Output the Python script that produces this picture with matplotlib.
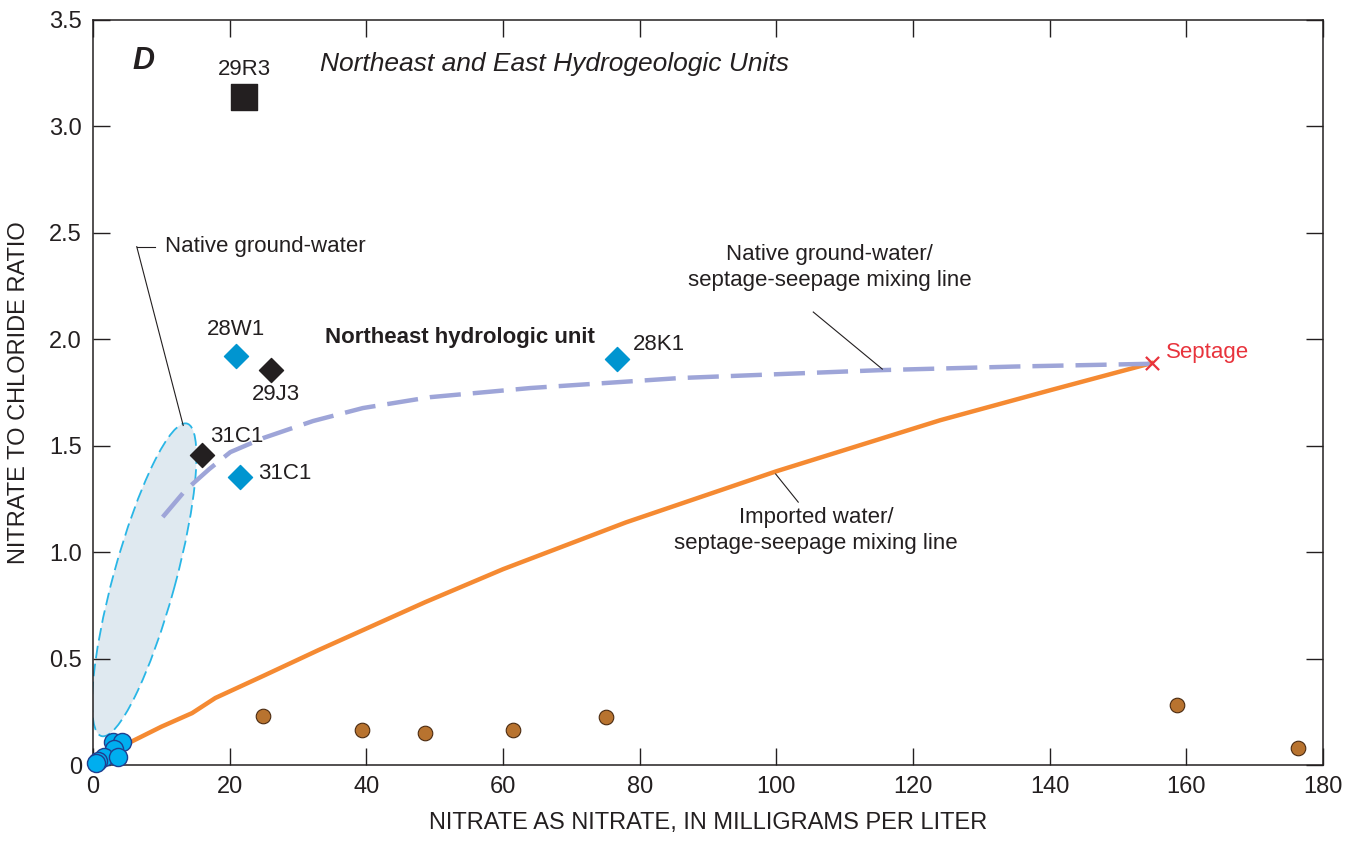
import matplotlib.pyplot as plt
import matplotlib.transforms as mtransforms
from matplotlib.patches import Ellipse

plt.rcParams['font.family'] = ['Liberation Sans Narrow', 'Liberation Sans', 'DejaVu Sans']

# native ground-water samples (blue circles near origin)
native_x = [2.9, 4.2, 3.1, 1.6, 0.7, 3.7, 0.4]
native_y = [0.11, 0.11, 0.075, 0.04, 0.02, 0.04, 0.01]

# imported water samples (brown circles)
imported_x = [24.9, 39.4, 48.6, 61.5, 75.0, 158.6, 176.3]
imported_y = [0.23, 0.164, 0.15, 0.164, 0.225, 0.28, 0.08]

# labelled wells
blue_wells = ["28W1", "31C1", "28K1"]
blue_x = [20.9, 21.5, 76.7]
blue_y = [1.92, 1.353, 1.907]
black_wells = ["29J3", "31C1"]
black_x = [26.1, 16.0]
black_y = [1.855, 1.456]
square_x = [22.1]
square_y = [3.14]

septage_x = 154.9
septage_y = 1.888

# imported water / septage-seepage mixing line
imp_line_x = [0.5, 5, 10, 14.5, 17.9, 25, 33, 48.6, 60, 78, 100, 124, 140, 154.9]
imp_line_y = [0.02, 0.1, 0.18, 0.244, 0.315, 0.42, 0.54, 0.765, 0.92, 1.14, 1.38, 1.62, 1.76, 1.888]

# native ground-water / septage-seepage mixing line
nat_line_x = [10.2, 13.5, 17, 20.1, 24.9, 32.2, 39.5, 49.3, 64, 85.9, 115.2, 135, 154.9]
nat_line_y = [1.165, 1.29, 1.39, 1.47, 1.536, 1.616, 1.677, 1.728, 1.771, 1.818, 1.855, 1.872, 1.885]

ink = "#231f20"

fig = plt.figure(figsize=(13.48, 8.46), dpi=100)
ax = fig.add_axes([0.069, 0.0957, 0.9125, 0.8807])

# ellipse around native ground-water
trans = fig.dpi_scale_trans + mtransforms.ScaledTranslation(7.5, 0.87, ax.transData)
ell = Ellipse((0, 0), 3.24, 0.62, angle=74.7, transform=trans,
              facecolor="#dfe9f0", edgecolor="#29b6e6", linestyle=(0, (7, 3)),
              linewidth=1.3, zorder=1)
ax.add_patch(ell)

ax.plot(imp_line_x, imp_line_y, color="#f58a32", linewidth=3.2, zorder=2)
ax.plot(nat_line_x, nat_line_y, color="#9ea5d8", linewidth=3.2,
        dashes=(7, 2.7), zorder=2)

ax.scatter(native_x, native_y, s=170, color="#00aeef", edgecolor="#1f3f8f",
           linewidth=1.0, zorder=4, clip_on=False)
ax.scatter(imported_x, imported_y, s=110, color="#b8732f", edgecolor="#4a2a10",
           linewidth=0.8, zorder=4)
ax.scatter(blue_x, blue_y, marker="D", s=150, color="#0095d0", zorder=4)
ax.scatter(black_x, black_y, marker="D", s=150, color=ink, zorder=4)
ax.scatter(square_x, square_y, marker="s", s=330, color=ink, zorder=4)
ax.scatter([septage_x], [septage_y], marker="x", s=90, color="#e8333c",
           linewidth=1.6, zorder=5)

fs = 16
ax.text(22.1, 3.265, "29R3", fontsize=fs, ha="center", va="center", color=ink)
ax.text(20.9, 2.044, "28W1", fontsize=fs, ha="center", va="center", color=ink)
ax.text(26.8, 1.74, "29J3", fontsize=fs, ha="center", va="center", color=ink)
ax.text(17.1, 1.543, "31C1", fontsize=fs, ha="left", va="center", color=ink)
ax.text(24.2, 1.37, "31C1", fontsize=fs, ha="left", va="center", color=ink)
ax.text(79.0, 1.975, "28K1", fontsize=fs, ha="left", va="center", color=ink)
ax.text(157.0, 1.94, "Septage", fontsize=fs, ha="left", va="center", color="#e8333c")
ax.text(34.0, 2.01, "Northeast hydrologic unit", fontsize=fs, ha="left",
        va="center", fontweight="bold", color=ink)
ax.text(5.8, 3.305, "D", fontsize=22, ha="left", va="center",
        fontweight="bold", fontstyle="italic", color=ink)
ax.text(33.2, 3.295, "Northeast and East Hydrogeologic Units", fontsize=19,
        ha="left", va="center", fontstyle="italic", color=ink)

ax.text(10.5, 2.435, "Native ground-water", fontsize=fs, ha="left", va="center", color=ink)
ax.plot([6.4, 9.1], [2.435, 2.435], color=ink, linewidth=0.8)
ax.plot([6.4, 13.2], [2.435, 1.595], color=ink, linewidth=0.8)

ax.text(107.8, 2.336, "Native ground-water/\nseptage-seepage mixing line",
        fontsize=fs, ha="center", va="center", color=ink, linespacing=1.3)
ax.plot([105.4, 115.5], [2.128, 1.86], color=ink, linewidth=0.8)

ax.text(105.8, 1.102, "Imported water/\nseptage-seepage mixing line",
        fontsize=fs, ha="center", va="center", color=ink, linespacing=1.3)
ax.plot([99.9, 103.2], [1.367, 1.235], color=ink, linewidth=0.8)

ax.set_xlim(0, 180)
ax.set_ylim(0, 3.5)
ax.set_xticks(range(0, 181, 20))
ax.set_yticks([0, 0.5, 1.0, 1.5, 2.0, 2.5, 3.0, 3.5])
ax.set_yticklabels(["0", "0.5", "1.0", "1.5", "2.0", "2.5", "3.0", "3.5"])
ax.tick_params(direction="in", length=12, width=1, top=True, right=True,
               labelsize=17, colors=ink, pad=8)
for sp in ax.spines.values():
    sp.set_color(ink)
    sp.set_linewidth(1.1)
ax.set_xlabel("NITRATE AS NITRATE, IN MILLIGRAMS PER LITER", fontsize=17,
              color=ink, labelpad=10)
ax.set_ylabel("NITRATE TO CHLORIDE RATIO", fontsize=17, color=ink, labelpad=14)

fig.savefig("out.png", dpi=100)
